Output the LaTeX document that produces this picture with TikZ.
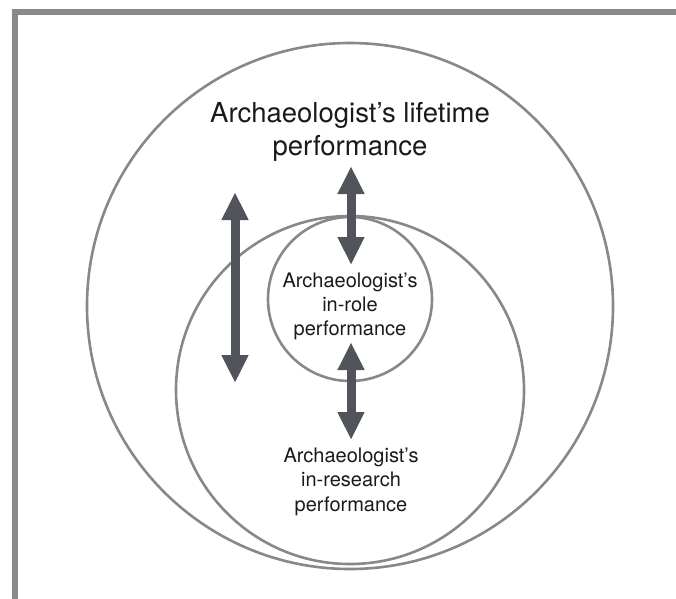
\documentclass[tikz,border=0pt]{standalone}
\usepackage{fontspec}
\setmainfont{TeX Gyre Heros}
\usetikzlibrary{arrows.meta}
\definecolor{ringgray}{HTML}{88888C}
\definecolor{framegray}{HTML}{8A8A8E}
\definecolor{arrowgray}{HTML}{52545C}
\definecolor{textblack}{HTML}{1A1A1A}
\begin{document}
\begin{tikzpicture}[x=1pt,y=-1pt,
  ring/.style={draw=ringgray,line width=2.6pt,circle,inner sep=0pt},
  dblarrow/.style={draw=arrowgray,fill=arrowgray,line width=9pt,
    {Triangle[length=28pt,width=25pt]}-{Triangle[length=28pt,width=25pt]}},
  biglabel/.style={text=textblack,align=center,inner sep=0pt,
    font=\fontsize{27.5}{33}\selectfont},
  smalllabel/.style={text=textblack,align=center,inner sep=0pt,
    font=\fontsize{20}{24.2}\selectfont}]
\useasboundingbox (0,0) rectangle (676,598);
\draw[framegray,line width=6pt] (14.5,620) -- (14.5,12) -- (700,12);
% rings
\node[ring,minimum size=526pt] (life) at (350,306) {};
\node[ring,minimum size=348pt] (research) at (350,390) {};
\node[ring,minimum size=164pt] (role) at (350,299) {};
% arrow end points
\coordinate (la1) at (235,192);
\coordinate (la2) at (235,383);
\coordinate (ta1) at (351,166);
\coordinate (ta2) at (351,265);
\coordinate (ba1) at (351,342);
\coordinate (ba2) at (351,440);
\draw[dblarrow] (la1) -- (la2);
\draw[dblarrow] (ta1) -- (ta2);
\draw[dblarrow] (ba1) -- (ba2);
% labels (base anchor = baseline of last line)
\node[biglabel,anchor=base] (lifetxt) at (350,155) {Archaeologist’s lifetime\\performance};
\node[smalllabel,anchor=base] (roletxt) at (350,335.5) {Archaeologist’s\\in-role\\performance};
\node[smalllabel,anchor=base] (restxt) at (351,511) {Archaeologist’s\\in-research\\performance};
\end{tikzpicture}
\end{document}
